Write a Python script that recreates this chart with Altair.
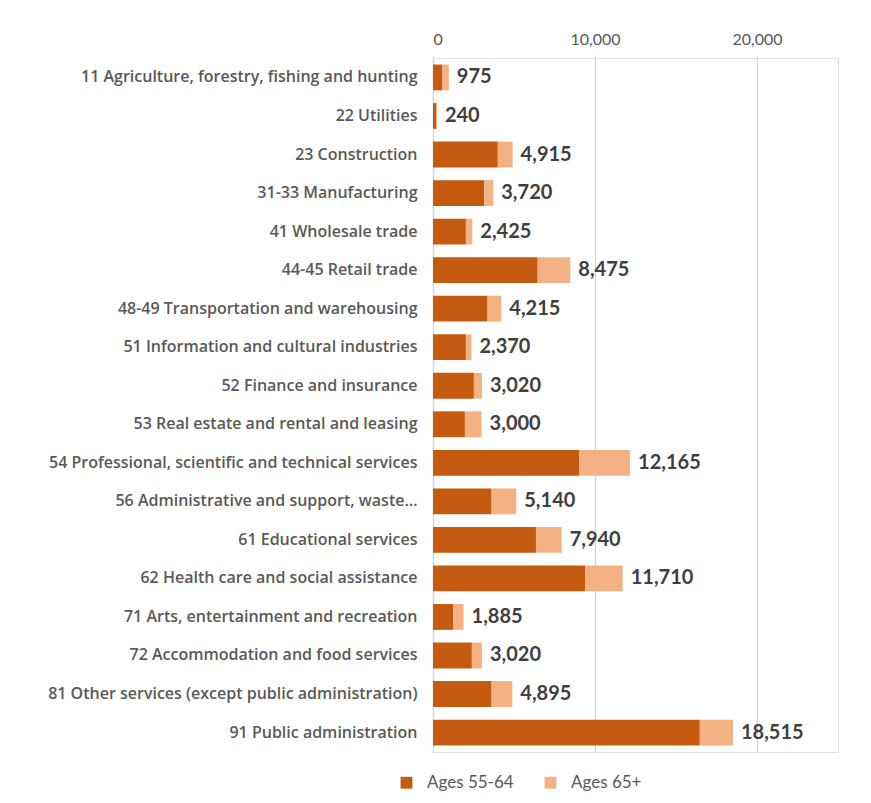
import altair as alt
import pandas as pd

categories = [
    "11 Agriculture, forestry, fishing and hunting",
    "22 Utilities",
    "23 Construction",
    "31-33 Manufacturing",
    "41 Wholesale trade",
    "44-45 Retail trade",
    "48-49 Transportation and warehousing",
    "51 Information and cultural industries",
    "52 Finance and insurance",
    "53 Real estate and rental and leasing",
    "54 Professional, scientific and technical services",
    "56 Administrative and support, waste\u2026",
    "61 Educational services",
    "62 Health care and social assistance",
    "71 Arts, entertainment and recreation",
    "72 Accommodation and food services",
    "81 Other services (except public administration)",
    "91 Public administration",
]
ages_55_64 = [560, 215, 4000, 3160, 2030, 6460, 3370, 2030, 2525, 1970,
              9035, 3615, 6355, 9385, 1265, 2400, 3615, 16470]
ages_65_plus = [415, 25, 915, 560, 395, 2015, 845, 340, 495, 1030,
                3130, 1525, 1585, 2325, 620, 620, 1280, 2045]
totals = [975, 240, 4915, 3720, 2425, 8475, 4215, 2370, 3020, 3000,
          12165, 5140, 7940, 11710, 1885, 3020, 4895, 18515]
series = ["Ages 55-64", "Ages 65+"]
colors = ["#C55A11", "#F4B183"]
x_ticks = [0, 10000, 20000]

rows = []
for i, c in enumerate(categories):
    rows.append({"industry": c, "group": series[0], "value": ages_55_64[i], "ord": 0})
    rows.append({"industry": c, "group": series[1], "value": ages_65_plus[i], "ord": 1})
df = pd.DataFrame(rows)
tot = pd.DataFrame({"industry": categories, "total": totals})

FONT = "Lato"
LABEL_FONT = "Open Sans"

x_axis = alt.Axis(orient="top", values=x_ticks, labelExpr="format(datum.value, ',')",
                  labelFontSize=16, labelFont=FONT, labelColor="#595959",
                  labelPadding=8, tickSize=3, tickColor="#D9D9D9",
                  domainColor="#E0E0E0", gridColor="#D4D4D4", gridWidth=1.2)
x_scale = alt.Scale(domain=[0, 25000], nice=False)

y_axis = alt.Axis(ticks=False, labelPadding=16, labelFontSize=16,
                  labelFont=LABEL_FONT, labelFontWeight=600,
                  labelColor="#595959", labelLimit=420,
                  domainColor="#D9D9D9", domainWidth=1.5)
y_scale = alt.Scale(paddingInner=0.33, paddingOuter=0.17)

bars = alt.Chart(df).mark_bar(stroke=None).encode(
    x=alt.X("value:Q", stack="zero", title=None, scale=x_scale, axis=x_axis),
    y=alt.Y("industry:N", sort=categories, title=None, scale=y_scale, axis=y_axis),
    color=alt.Color("group:N", scale=alt.Scale(domain=series, range=colors),
                    legend=alt.Legend(title=None, orient="none", direction="horizontal",
                                      legendX=-35, legendY=716, symbolType="square",
                                      symbolSize=140, symbolStrokeWidth=0,
                                      labelFontSize=17, labelFont=FONT,
                                      labelColor="#595959", columnPadding=28,
                                      labelOffset=12)),
    order=alt.Order("ord:Q"),
)

labels = alt.Chart(tot).mark_text(
    align="left", baseline="middle", dx=8, fontSize=20, fontWeight="bold",
    font=FONT, color="#404040"
).encode(
    x=alt.X("total:Q", title=None, scale=x_scale, axis=x_axis),
    y=alt.Y("industry:N", sort=categories, title=None, scale=y_scale, axis=y_axis),
    text=alt.Text("total:Q", format=","),
)

chart = alt.layer(bars, labels).properties(
    width=405, height=694,
    autosize=alt.AutoSizeParams(type="none"),
    padding={"left": 425, "top": 50, "right": 20, "bottom": 50},
).configure_view(
    fill="#F2F2F2", stroke=None
).configure(background="white")

chart.save("out.html", embed_options={"renderer": "svg", "actions": False})
